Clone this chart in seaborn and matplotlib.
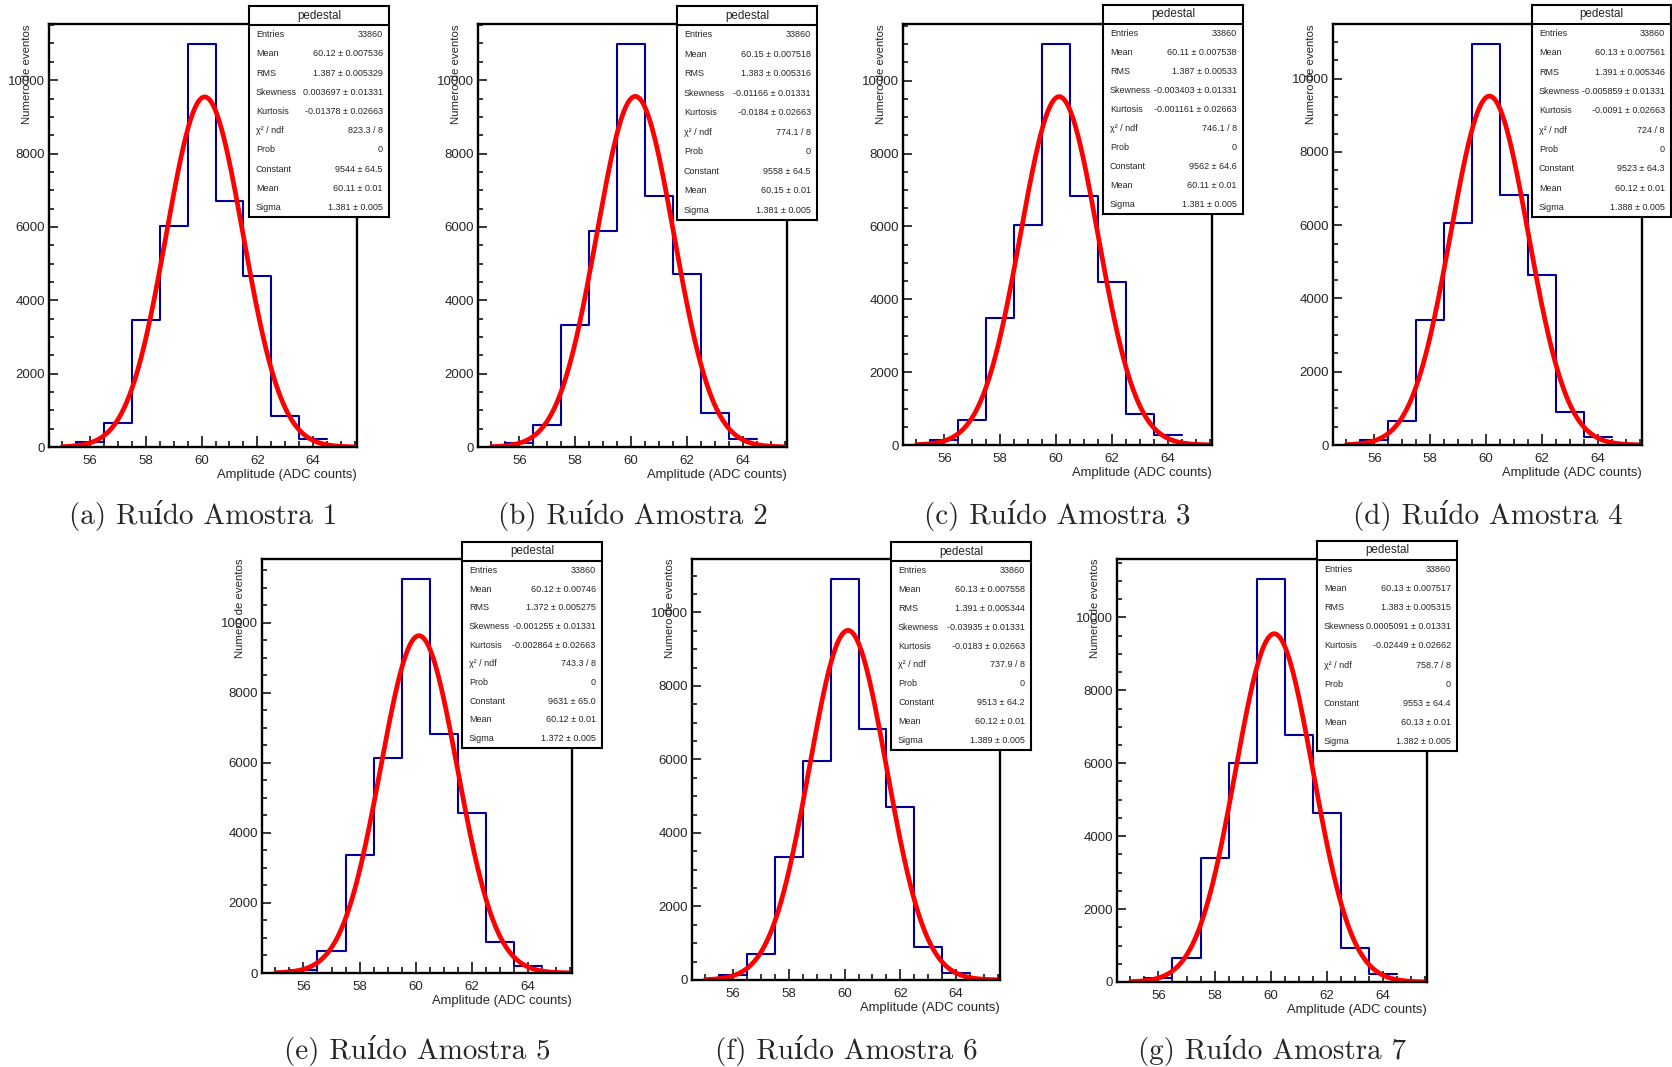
import numpy as np
import matplotlib
matplotlib.use('Agg')
import matplotlib.pyplot as plt
from matplotlib.ticker import MultipleLocator
import seaborn as sns

# bins de largura 1 centrados nos inteiros
bin_centers = [56, 57, 58, 59, 60, 61, 62, 63, 64]
bin_edges = [55.5, 56.5, 57.5, 58.5, 59.5, 60.5, 61.5, 62.5, 63.5, 64.5]

counts_1 = [140, 664, 3455, 6036, 10982, 6709, 4655, 836, 227]
counts_2 = [110, 609, 3318, 5891, 10982, 6836, 4709, 927, 227]
counts_3 = [128, 685, 3479, 6027, 11005, 6822, 4484, 849, 265]
counts_4 = [127, 645, 3418, 6064, 10945, 6818, 4636, 909, 227]
counts_5 = [95, 629, 3362, 6152, 11257, 6810, 4571, 876, 210]
counts_6 = [136, 718, 3336, 5964, 10909, 6836, 4709, 891, 200]
counts_7 = [110, 648, 3397, 6018, 11050, 6776, 4639, 922, 210]
all_counts = [counts_1, counts_2, counts_3, counts_4, counts_5, counts_6, counts_7]

captions = ['(a) Ruído Amostra 1', '(b) Ruído Amostra 2', '(c) Ruído Amostra 3',
            '(d) Ruído Amostra 4', '(e) Ruído Amostra 5', '(f) Ruído Amostra 6',
            '(g) Ruído Amostra 7']

# parametros do ajuste gaussiano
fit_constant = [9544, 9558, 9562, 9523, 9631, 9513, 9553]
fit_mean = [60.11, 60.15, 60.11, 60.12, 60.12, 60.12, 60.13]
fit_sigma = [1.381, 1.381, 1.381, 1.388, 1.372, 1.389, 1.382]

# textos da caixa de estatisticas
st_entries = ['33860'] * 7
st_mean = ['60.12 ± 0.007536', '60.15 ± 0.007518', '60.11 ± 0.007538', '60.13 ± 0.007561',
           '60.12 ± 0.00746', '60.13 ± 0.007558', '60.13 ± 0.007517']
st_rms = ['1.387 ± 0.005329', '1.383 ± 0.005316', '1.387 ± 0.00533', '1.391 ± 0.005346',
          '1.372 ± 0.005275', '1.391 ± 0.005344', '1.383 ± 0.005315']
st_skew = ['0.003697 ± 0.01331', '-0.01166 ± 0.01331', '-0.003403 ± 0.01331', '-0.005859 ± 0.01331',
           '-0.001255 ± 0.01331', '-0.03935 ± 0.01331', '0.0005091 ± 0.01331']
st_kurt = ['-0.01378 ± 0.02663', '-0.0184 ± 0.02663', '-0.001161 ± 0.02663', '-0.0091 ± 0.02663',
           '-0.002864 ± 0.02663', '-0.0183 ± 0.02663', '-0.02449 ± 0.02662']
st_chi2 = ['823.3 / 8', '774.1 / 8', '746.1 / 8', '724 / 8', '743.3 / 8', '737.9 / 8', '758.7 / 8']
st_prob = ['0'] * 7
st_const = ['9544 ± 64.5', '9558 ± 64.5', '9562 ± 64.6', '9523 ± 64.3', '9631 ± 65.0',
            '9513 ± 64.2', '9553 ± 64.4']
st_fmean = ['60.11 ± 0.01', '60.15 ± 0.01', '60.11 ± 0.01', '60.12 ± 0.01', '60.12 ± 0.01',
            '60.12 ± 0.01', '60.13 ± 0.01']
st_fsigma = ['1.381 ± 0.005', '1.381 ± 0.005', '1.381 ± 0.005', '1.388 ± 0.005', '1.372 ± 0.005',
             '1.389 ± 0.005', '1.382 ± 0.005']
row_labels = ['Entries', 'Mean', 'RMS', 'Skewness', 'Kurtosis', 'χ² / ndf', 'Prob',
              'Constant', 'Mean', 'Sigma']

# layout em pixels (esq, topo, dir, baixo)
W, H = 1672, 1067
axes_px = [(49, 24, 357, 447), (478, 24, 787, 447), (903, 24, 1212, 445), (1333, 24, 1642, 445),
           (262, 559, 572, 973), (692, 559, 1000, 980), (1117, 559, 1427, 982)]
box_px = [(249, 6, 389, 217), (677, 6, 817, 220), (1103, 5, 1243, 214), (1532, 5, 1671, 217),
          (462, 542, 602, 748), (891, 542, 1031, 750), (1317, 541, 1457, 751)]
caption_y = [515, 515, 515, 515, 1050, 1050, 1050]

sns.set_theme(style='white')
plt.rcParams['font.family'] = ['Liberation Sans', 'DejaVu Sans']


def frac(r):
    l, t, rr, b = r
    return [l / W, 1 - b / H, (rr - l) / W, (b - t) / H]


fig = plt.figure(figsize=(W / 100, H / 100), dpi=100)

for i in range(7):
    ax = fig.add_axes(frac(axes_px[i]))
    counts = all_counts[i]
    sns.histplot(x=bin_centers, weights=counts, bins=bin_edges, element='step', fill=False,
                 color='#000099', linewidth=1.5, ax=ax)
    xs = np.linspace(55.0, 65.5, 400)
    ys = fit_constant[i] * np.exp(-0.5 * ((xs - fit_mean[i]) / fit_sigma[i]) ** 2)
    sns.lineplot(x=xs, y=ys, color='red', linewidth=3.4, ax=ax)

    ax.set_xlim(54.52, 65.58)
    ax.set_ylim(0, max(counts) * 1.05)
    ax.xaxis.set_major_locator(MultipleLocator(2))
    ax.xaxis.set_minor_locator(MultipleLocator(0.5))
    ax.yaxis.set_major_locator(MultipleLocator(2000))
    ax.yaxis.set_minor_locator(MultipleLocator(500))
    ax.tick_params(axis='x', which='major', direction='in', length=8, width=1.3,
                   labelsize=9.5, pad=6, bottom=True, top=False)
    ax.tick_params(axis='x', which='minor', direction='in', length=4.3, width=1.3, bottom=True)
    ax.tick_params(axis='y', which='major', direction='in', length=6.5, width=1.3,
                   labelsize=9.5, pad=3, left=True, right=False)
    ax.tick_params(axis='y', which='minor', direction='in', length=3.6, width=1.3, left=True)
    for s in ax.spines.values():
        s.set_linewidth(1.7)
        s.set_color('black')
    ax.set_xlabel('Amplitude (ADC counts)', loc='right', fontsize=9.4, labelpad=1)
    ax.set_ylabel('')
    ax.text(-0.071, 1.0, 'Numero de eventos', rotation=90, ha='center', va='top',
            fontsize=8.2, transform=ax.transAxes)

    # caixa de estatisticas
    bx = fig.add_axes(frac(box_px[i]))
    bx.set_xlim(0, 1)
    bx.set_ylim(0, 1)
    bx.set_xticks([])
    bx.set_yticks([])
    bx.set_facecolor('white')
    for s in bx.spines.values():
        s.set_linewidth(1.5)
        s.set_color('black')
    tfrac = 19 / (box_px[i][3] - box_px[i][1])
    bx.axhline(1 - tfrac, color='black', lw=1.5)
    bx.text(0.5, 1 - tfrac / 2, 'pedestal', ha='center', va='center', fontsize=8.4)
    vals = [st_entries[i], st_mean[i], st_rms[i], st_skew[i], st_kurt[i], st_chi2[i],
            st_prob[i], st_const[i], st_fmean[i], st_fsigma[i]]
    for k, (lab, val) in enumerate(zip(row_labels, vals)):
        y = (1 - tfrac) * (1 - (k + 0.5) / 10)
        bx.text(0.05, y, lab, ha='left', va='center', fontsize=6.5)
        bx.text(0.955, y, val, ha='right', va='center', fontsize=6.5)

    cx = (axes_px[i][0] + axes_px[i][2]) / 2
    fig.text(cx / W, 1 - caption_y[i] / H, captions[i], ha='center', va='center',
             fontsize=21, family=['cmr10', 'DejaVu Serif'])

fig.savefig('out.png', dpi=100, facecolor='white')
